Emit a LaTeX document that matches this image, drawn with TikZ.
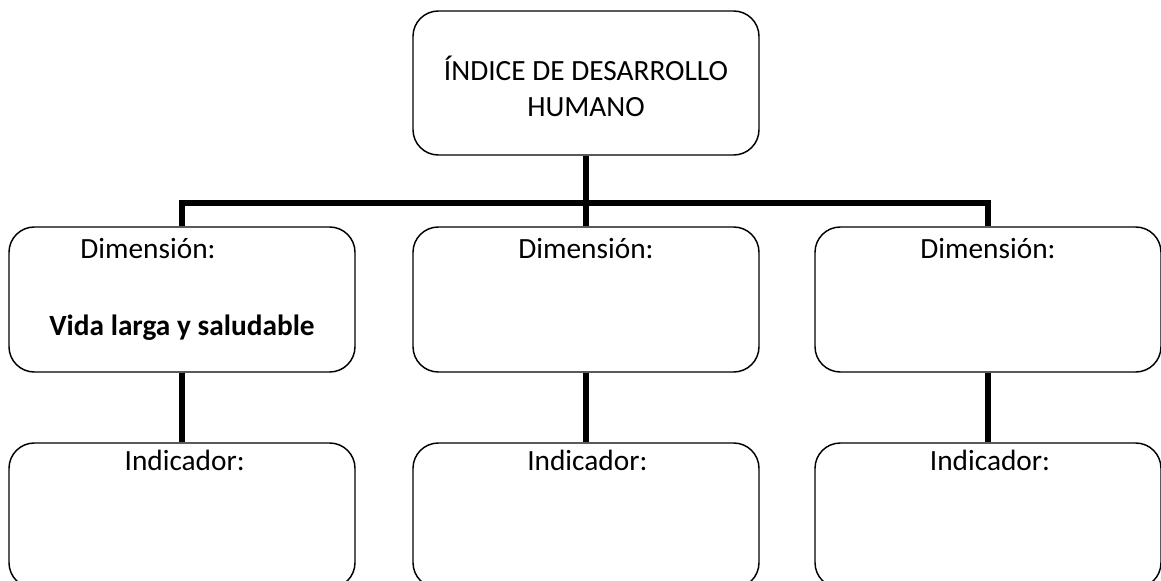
\documentclass[tikz,border=0pt]{standalone}
\usepackage{fontspec}
\setmainfont{Carlito}
\usetikzlibrary{positioning}
\tikzset{box/.style = {draw, rounded corners=19pt, line width=1.1pt,
                       minimum width=259.5pt, inner sep=0pt},
         link/.style = {line width=4.5pt},
         txt/.style = {anchor=base, inner sep=0pt, font=\fontsize{22}{27}\selectfont}}

\begin{document}
\begin{tikzpicture}[x=0.75pt, y=-0.75pt]
      \useasboundingbox (0, 0) rectangle (1161, 581);
      \clip (0, 0) rectangle (1161, 581);
      % boxes
      \node [box, minimum height=108pt] (idh) at (586, 83) {};
      \node [box, minimum height=108.75pt] (dim1) at (182, 299.5) {};
      \node [box, minimum height=108.75pt] (dim2) at (586, 299.5) {};
      \node [box, minimum height=108.75pt] (dim3) at (988, 299.5) {};
      \node [box, minimum height=108.75pt] (ind1) at (182, 515.5) {};
      \node [box, minimum height=108.75pt] (ind2) at (586, 515.5) {};
      \node [box, minimum height=108.75pt] (ind3) at (988, 515.5) {};
      % texts
      \node [txt] (idht1) at ([yshift=-53pt] idh.north) {ÍNDICE DE DESARROLLO};
      \node [txt] (idht2) at ([yshift=-80pt] idh.north) {HUMANO};
      \node [txt] (dimt1) at ([xshift=-25.5pt, yshift=-24.4pt] dim1.north) {Dimensión:};
      \node [txt, font=\fontsize{22}{27}\selectfont\bfseries] (vida) at ([yshift=-82pt] dim1.north) {Vida larga y saludable};
      \node [txt] (dimt2) at ([yshift=-24.4pt] dim2.north) {Dimensión:};
      \node [txt] (dimt3) at ([yshift=-24.4pt] dim3.north) {Dimensión:};
      \node [txt] (indt1) at ([xshift=2pt, yshift=-21.4pt] ind1.north) {Indicador:};
      \node [txt] (indt2) at ([xshift=1pt, yshift=-21.4pt] ind2.north) {Indicador:};
      \node [txt] (indt3) at ([xshift=1.5pt, yshift=-21.4pt] ind3.north) {Indicador:};
      % connectors
      \coordinate (bus) at (586, 203);
      \draw [link] (idh.south) -- (bus);
      \draw [link] (bus) -| (dim1.north);
      \draw [link] (bus) -| (dim3.north);
      \draw [link] (bus) -- (dim2.north);
      \foreach \i in {1, 2, 3}
        \draw [link] (dim\i.south) -- (ind\i.north);
    \end{tikzpicture}
\end{document}
